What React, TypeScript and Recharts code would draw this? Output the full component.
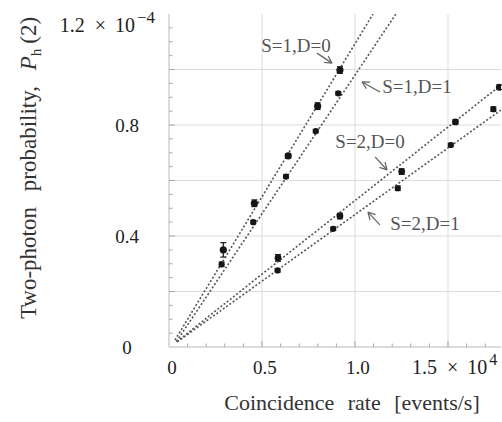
import { ScatterChart, Scatter, XAxis, YAxis, CartesianGrid, ErrorBar, ReferenceLine, ReferenceDot } from 'recharts'

// x in units of 1e4 events/s, y in units of 1e-4
const s1d0X = [0.292, 0.459, 0.641, 0.799, 0.919]
const s1d0Y = [0.35, 0.518, 0.689, 0.868, 0.998]
const s1d0Err = [0.026, 0.012, 0.008, 0.012, 0.012]

const s1d1X = [0.283, 0.453, 0.629, 0.789, 0.91]
const s1d1Y = [0.298, 0.45, 0.614, 0.778, 0.914]
const s1d1Err = [0.008, 0.006, 0.006, 0.006, 0.006]

const s2d0X = [0.586, 0.919, 1.251, 1.54, 1.776]
const s2d0Y = [0.321, 0.472, 0.632, 0.811, 0.936]
const s2d0Err = [0.012, 0.01, 0.01, 0.008, 0.008]

const s2d1X = [0.584, 0.883, 1.23, 1.515, 1.744]
const s2d1Y = [0.276, 0.426, 0.572, 0.728, 0.857]
const s2d1Err = [0.006, 0.006, 0.008, 0.006, 0.008]

// fitted lines (start, end)
const fitS1D0 = [{ x: 0.032, y: 0.025 }, { x: 1.097, y: 1.2 }]
const fitS1D1 = [{ x: 0.04, y: 0.02 }, { x: 1.22, y: 1.2 }]
const fitS2D0 = [{ x: 0.041, y: 0.019 }, { x: 1.785, y: 0.944 }]
const fitS2D1 = [{ x: 0.045, y: 0.019 }, { x: 1.785, y: 0.854 }]

const xMax = 1.785
const yMax = 1.2
const xTicks = [0, 0.1, 0.2, 0.3, 0.4, 0.5, 0.6, 0.7, 0.8, 0.9, 1.0, 1.1, 1.2, 1.3, 1.4, 1.5, 1.6, 1.7]
const yTicks = [0, 0.05, 0.1, 0.15, 0.2, 0.25, 0.3, 0.35, 0.4, 0.45, 0.5, 0.55, 0.6, 0.65, 0.7, 0.75, 0.8, 0.85, 0.9, 0.95, 1.0, 1.05, 1.1, 1.15, 1.2]
const xLabels = [0, 0.5, 1.0, 1.5]
const yLabels = [0, 0.4, 0.8, 1.2]
const xGrid = [0.5, 1.0, 1.5]
const yGrid = [0.2, 0.4, 0.6, 0.8, 1.0]

const notes = [
  { text: 'S=1,D=0', tx: 0.683, ty: 1.09, ax1: 0.796, ay1: 1.059, ax2: 0.876, ay2: 1.023 },
  { text: 'S=1,D=1', tx: 1.333, ty: 0.941, ax1: 1.134, ay1: 0.919, ax2: 1.038, ay2: 0.955 },
  { text: 'S=2,D=0', tx: 1.081, ty: 0.742, ax1: 1.108, ay1: 0.685, ax2: 1.172, ay2: 0.638 },
  { text: 'S=2,D=1', tx: 1.376, ty: 0.447, ax1: 1.134, ay1: 0.44, ax2: 1.07, ay2: 0.486 },
]

const FONT = '"Liberation Serif", "Times New Roman", serif'
const TICK = '#a8a8a8'
const serif = { fontFamily: FONT }

function rows(xs: number[], ys: number[], errs: number[]) {
  return xs.map((x, i) => ({ x, y: ys[i], err: errs[i] }))
}

const isOn = (v: number, step: number) => Math.abs(v / step - Math.round(v / step)) < 1e-6

function LeftTick(props: any) {
  const { x, y, payload } = props
  const v = payload.value
  const len = isOn(v, 0.2) ? 6 : 3.5
  let label = null
  if (yLabels.includes(v)) {
    if (v === 1.2) {
      label = (
        <text x={x - 14} y={y + 18} textAnchor="end" fontSize={20} fill="#222" style={serif}>
          1.2<tspan dx={10}>{'\u00d7'}</tspan>
          <tspan dx={9}>10</tspan>
          <tspan dx={2} dy={-9} fontSize={17}>{'\u22124'}</tspan>
        </text>
      )
    } else {
      label = (
        <text x={x - 42} y={y + 7} textAnchor="middle" fontSize={19} fill="#222" style={serif}>
          {v === 0 ? '0' : v.toFixed(1)}
        </text>
      )
    }
  }
  return (
    <g>
      {v > 0 && v < yMax && <line x1={x} x2={x + len} y1={y} y2={y} stroke={TICK} />}
      {label}
    </g>
  )
}

function BottomTick(props: any) {
  const { x, y, payload } = props
  const v = payload.value
  const len = isOn(v, 0.5) ? 6 : 3.5
  let label = null
  if (xLabels.includes(v)) {
    if (v === 1.5) {
      label = (
        <text x={x - 36} y={y + 27} textAnchor="start" fontSize={20} fill="#222" style={serif}>
          1.5<tspan dx={10}>{'\u00d7'}</tspan>
          <tspan dx={9}>10</tspan>
          <tspan dx={2} dy={-9} fontSize={16}>4</tspan>
        </text>
      )
    } else {
      label = (
        <text x={x + 3} y={y + 27} textAnchor="middle" fontSize={19} fill="#222" style={serif}>
          {v === 0 ? '0' : v.toFixed(1)}
        </text>
      )
    }
  }
  return (
    <g>
      {v > 0 && <line x1={x} x2={x} y1={y} y2={y - len} stroke={TICK} />}
      {label}
    </g>
  )
}

function TopTick(props: any) {
  const { x, y, payload } = props
  const v = payload.value
  if (v <= 0) return <g />
  const len = isOn(v, 0.5) ? 6 : 3.5
  return <line x1={x} x2={x} y1={y} y2={y + len} stroke={TICK} />
}

function RightTick(props: any) {
  const { x, y, payload } = props
  const v = payload.value
  if (v <= 0 || v >= yMax) return <g />
  const len = isOn(v, 0.2) ? 6 : 3.5
  return <line x1={x} x2={x - len} y1={y} y2={y} stroke={TICK} />
}

function Arrow(props: any) {
  const { x1, y1, x2, y2 } = props
  const a = Math.atan2(y2 - y1, x2 - x1)
  const h = 8
  const s = 0.5
  return (
    <g stroke="#666" strokeWidth={1.3} fill="none">
      <line x1={x1} y1={y1} x2={x2} y2={y2} />
      <line x1={x2} y1={y2} x2={x2 - h * Math.cos(a - s)} y2={y2 - h * Math.sin(a - s)} />
      <line x1={x2} y1={y2} x2={x2 - h * Math.cos(a + s)} y2={y2 - h * Math.sin(a + s)} />
    </g>
  )
}

const dot = (r: number) => (p: any) => <circle cx={p.cx} cy={p.cy} r={r} fill="#161616" />
const noDot = () => <g />
const fitLine = { stroke: '#555', strokeWidth: 1.6, strokeDasharray: '2 2' }

export default function App() {
  return (
    <div style={{ position: 'absolute', left: 0, top: 0, width: 502, height: 422, background: '#fff', fontFamily: FONT }}>
      <ScatterChart width={502} height={422} margin={{ top: 14, right: 1, bottom: 45, left: 109 }} style={serif}>
        <CartesianGrid stroke="#dcdcdc" horizontalValues={yGrid} verticalValues={xGrid} />
        <XAxis
          type="number"
          dataKey="x"
          domain={[0, xMax]}
          ticks={xTicks}
          interval={0}
          height={30}
          tickSize={0}
          tickMargin={0}
          tickLine={false}
          axisLine={{ stroke: '#b8b8b8' }}
          tick={BottomTick}
          allowDataOverflow
          label={{
            content: (p: any) => (
              <text x={p.viewBox.x + p.viewBox.width / 2 + 17} y={p.viewBox.y + 63} textAnchor="middle" fontSize={22} fill="#333" style={{ ...serif, wordSpacing: 8 }}>
                Coincidence rate [events/s]
              </text>
            ),
          }}
        />
        <XAxis
          xAxisId="top"
          orientation="top"
          type="number"
          domain={[0, xMax]}
          ticks={xTicks}
          interval={0}
          height={0}
          tickSize={0}
          tickMargin={0}
          tickLine={false}
          axisLine={{ stroke: '#b8b8b8' }}
          tick={TopTick}
          allowDataOverflow
        />
        <YAxis
          type="number"
          dataKey="y"
          domain={[0, yMax]}
          ticks={yTicks}
          interval={0}
          width={60}
          tickSize={0}
          tickMargin={0}
          tickLine={false}
          axisLine={{ stroke: '#b8b8b8' }}
          tick={LeftTick}
          allowDataOverflow
          label={{
            content: (p: any) => {
              const cx = p.viewBox.x - 73
              const cy = 168
              return (
                <text x={cx} y={cy} transform={`rotate(-90, ${cx}, ${cy})`} textAnchor="middle" fontSize={23} fill="#333" style={{ ...serif, wordSpacing: 10 }}>
                  Two-photon probability, <tspan fontStyle="italic">P</tspan>
                  <tspan fontSize={15} dy={5}>h</tspan>
                  <tspan dx={5} dy={-5}>(2)</tspan>
                </text>
              )
            },
          }}
        />
        <YAxis
          yAxisId="r"
          orientation="right"
          type="number"
          domain={[0, yMax]}
          ticks={yTicks}
          interval={0}
          width={0}
          tickSize={0}
          tickMargin={0}
          tickLine={false}
          axisLine={{ stroke: '#b8b8b8' }}
          tick={RightTick}
          allowDataOverflow
        />

        <Scatter data={fitS1D0} line={fitLine} shape={noDot} isAnimationActive={false} legendType="none" />
        <Scatter data={fitS1D1} line={fitLine} shape={noDot} isAnimationActive={false} legendType="none" />
        <Scatter data={fitS2D0} line={fitLine} shape={noDot} isAnimationActive={false} legendType="none" />
        <Scatter data={fitS2D1} line={fitLine} shape={noDot} isAnimationActive={false} legendType="none" />

        <Scatter data={rows(s1d0X, s1d0Y, s1d0Err)} shape={dot(3.6)} isAnimationActive={false}>
          <ErrorBar dataKey="err" direction="y" width={3} stroke="#161616" strokeWidth={1.2} isAnimationActive={false} />
        </Scatter>
        <Scatter data={rows(s1d1X, s1d1Y, s1d1Err)} shape={dot(3.1)} isAnimationActive={false}>
          <ErrorBar dataKey="err" direction="y" width={3} stroke="#161616" strokeWidth={1.2} isAnimationActive={false} />
        </Scatter>
        <Scatter data={rows(s2d0X, s2d0Y, s2d0Err)} shape={dot(3.4)} isAnimationActive={false}>
          <ErrorBar dataKey="err" direction="y" width={3} stroke="#161616" strokeWidth={1.2} isAnimationActive={false} />
        </Scatter>
        <Scatter data={rows(s2d1X, s2d1Y, s2d1Err)} shape={dot(3.1)} isAnimationActive={false}>
          <ErrorBar dataKey="err" direction="y" width={3} stroke="#161616" strokeWidth={1.2} isAnimationActive={false} />
        </Scatter>

        {notes.map((n) => (
          <ReferenceLine
            key={n.text + 'a'}
            segment={[{ x: n.ax1, y: n.ay1 }, { x: n.ax2, y: n.ay2 }]}
            shape={Arrow}
          />
        ))}
        {notes.map((n) => (
          <ReferenceDot
            key={n.text}
            x={n.tx}
            y={n.ty}
            r={1}
            shape={(p: any) => (
              <text x={p.cx} y={p.cy + 7} textAnchor="middle" fontSize={19} fill="#555" style={serif}>
                {n.text}
              </text>
            )}
          />
        ))}
      </ScatterChart>
    </div>
  )
}
